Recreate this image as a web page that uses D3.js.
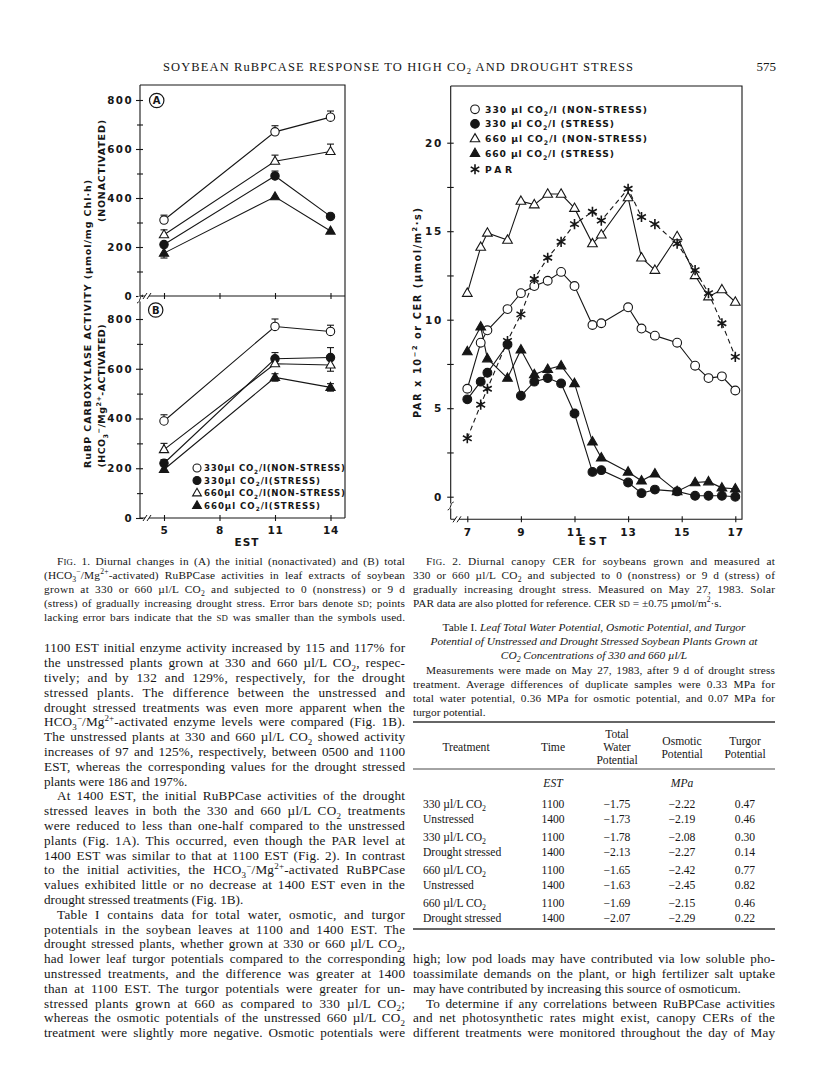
<!DOCTYPE html>
<html><head><meta charset="utf-8">
<script src="https://cdn.jsdelivr.net/npm/d3@7"></script>
<style>html,body{margin:0;padding:0;background:#fff}svg{display:block}</style>
</head><body>
<script>
// ---------------- DATA ----------------
// Fig. 1 (RuBPCase activity, µmol/mg Chl·h) at EST 5, 11, 14
const fig1Times = [5, 11, 14];
const fig1XTicks = [5, 8, 11, 14];
const fig1YTicks = [0, 200, 400, 600, 800];
// Panel A (nonactivated)
const A_330NS = [310, 670, 730];
const A_330S  = [210, 490, 325];
const A_660NS = [250, 550, 590];
const A_660S  = [175, 405, 265];
const A_330NS_up = [20, 25, 25], A_330NS_dn = [0, 0, 0];
const A_330S_up  = [0, 20, 0],   A_330S_dn  = [0, 0, 0];
const A_660NS_up = [20, 25, 30], A_660NS_dn = [0, 0, 0];
const A_660S_up  = [0, 0, 0],    A_660S_dn  = [20, 0, 0];
// Panel B (HCO3-/Mg2+-activated)
const B_330NS = [390, 770, 750];
const B_330S  = [220, 640, 645];
const B_660NS = [275, 620, 615];
const B_660S  = [195, 565, 525];
const B_330NS_up = [25, 30, 25], B_330NS_dn = [0, 0, 0];
const B_330S_up  = [15, 25, 40], B_330S_dn  = [0, 0, 0];
const B_660NS_up = [25, 0, 0],   B_660NS_dn = [0, 0, 25];
const B_660S_up  = [0, 15, 15],  B_660S_dn  = [0, 15, 15];
const fig1Legend = ["330µl CO_{2}/l(NON-STRESS)", "330µl CO_{2}/l(STRESS)", "660µl CO_{2}/l(NON-STRESS)", "660µl CO_{2}/l(STRESS)"];

// Fig. 2 (canopy CER µmol/m²·s and PAR x 10^-2) vs EST
const fig2Times = [7, 7.5, 7.75, 8.5, 9, 9.5, 10, 10.5, 11, 11.67, 12, 13, 13.5, 14, 14.83, 15.5, 16, 16.5, 17];
const cer330NS = [6.1, 8.7, 9.4, 10.6, 11.5, 11.9, 12.2, 12.7, 11.9, 9.7, 9.8, 10.7, 9.5, 9.1, 8.7, 7.4, 6.7, 6.8, 6.0];
const cer330S  = [5.5, 6.5, 7.0, 8.6, 5.7, 6.5, 6.7, 6.4, 4.7, 1.4, 1.5, 0.8, 0.2, 0.4, 0.3, 0.05, 0.05, 0.05, 0.0];
const cer660NS = [11.5, 14.1, 14.9, 14.5, 16.7, 16.5, 17.1, 17.1, 16.3, 14.3, 14.8, 16.9, 13.5, 12.8, 14.7, 12.5, 11.3, 11.7, 11.0];
const cer660S  = [8.2, 9.6, 7.8, 6.7, 8.3, 6.9, 7.2, 7.4, 6.4, 3.1, 2.2, 1.4, 0.9, 1.3, 0.3, 0.8, 0.85, 0.5, 0.45];
const par      = [3.3, 5.2, 6.1, 8.8, 10.3, 12.3, 13.5, 14.4, 15.4, 16.1, 15.6, 17.4, 15.8, 15.4, 14.3, 12.8, 11.5, 9.8, 7.9];
const fig2XTicks = [7, 9, 11, 13, 15, 17];
const fig2YTicks = [0, 2.5, 5, 7.5, 10, 12.5, 15, 17.5, 20];
const fig2Legend = ["330 µl CO_{2}/l (NON-STRESS)", "330 µl CO_{2}/l (STRESS)", "660 µl CO_{2}/l (NON-STRESS)", "660 µl CO_{2}/l (STRESS)", "PAR"];

// Table I
const tblTreatment = ["330 µl/L CO_{2}", "Unstressed", "330 µl/L CO_{2}", "Drought stressed", "660 µl/L CO_{2}", "Unstressed", "660 µl/L CO_{2}", "Drought stressed"];
const tblTime = ["1100", "1400", "1100", "1400", "1100", "1400", "1100", "1400"];
const tblTotal = [-1.75, -1.73, -1.78, -2.13, -1.65, -1.63, -1.69, -2.07];
const tblOsmotic = [-2.22, -2.19, -2.08, -2.27, -2.42, -2.45, -2.15, -2.29];
const tblTurgor = [0.47, 0.46, 0.30, 0.14, 0.77, 0.82, 0.46, 0.22];

// Page text
const headerTitle = "SOYBEAN RuBPCASE RESPONSE TO HIGH CO_{2} AND DROUGHT STRESS";
const pageNumber = "575";
const fig1Caption = [
 "F[sc:ig]. 1. Diurnal changes in (A) the initial (nonactivated) and (B) total",
 "(HCO_{3}^{−}/Mg^{2+}-activated) RuBPCase activities in leaf extracts of soybean",
 "grown at 330 or 660 µl/L CO_{2} and subjected to 0 (nonstress) or 9 d",
 "(stress) of gradually increasing drought stress. Error bars denote [sc:sd]; points",
 "lacking error bars indicate that the [sc:sd] was smaller than the symbols used."];
const fig2Caption = [
 "F[sc:ig]. 2. Diurnal canopy CER for soybeans grown and measured at",
 "330 or 660 µl/L CO_{2} and subjected to 0 (nonstress) or 9 d (stress) of",
 "gradually increasing drought stress. Measured on May 27, 1983. Solar",
 "PAR data are also plotted for reference. CER [sc:sd] = ±0.75 µmol/m^{2}·s."];
const tableTitle = [
 "Table I. [i:Leaf Total Water Potential, Osmotic Potential, and Turgor]",
 "[i:Potential of Unstressed and Drought Stressed Soybean Plants Grown at]",
 "[i:CO]_{[i:2]}[i: Concentrations of 330 and 660 µl/L]"];
const tableNote = [
 "Measurements were made on May 27, 1983, after 9 d of drought stress",
 "treatment. Average differences of duplicate samples were 0.33 MPa for",
 "total water potential, 0.36 MPa for osmotic potential, and 0.07 MPa for",
 "turgor potential."];
const leftBody = [
 "1100 EST initial enzyme activity increased by 115 and 117% for",
 "the unstressed plants grown at 330 and 660 µl/L CO_{2}, respec-",
 "tively; and by 132 and 129%, respectively, for the drought",
 "stressed plants. The difference between the unstressed and",
 "drought stressed treatments was even more apparent when the",
 "HCO_{3}^{−}/Mg^{2+}-activated enzyme levels were compared (Fig. 1B).",
 "The unstressed plants at 330 and 660 µl/L CO_{2} showed activity",
 "increases of 97 and 125%, respectively, between 0500 and 1100",
 "EST, whereas the corresponding values for the drought stressed",
 "plants were 186 and 197%.",
 "At 1400 EST, the initial RuBPCase activities of the drought",
 "stressed leaves in both the 330 and 660 µl/L CO_{2} treatments",
 "were reduced to less than one-half compared to the unstressed",
 "plants (Fig. 1A). This occurred, even though the PAR level at",
 "1400 EST was similar to that at 1100 EST (Fig. 2). In contrast",
 "to the initial activities, the HCO_{3}^{−}/Mg^{2+}-activated RuBPCase",
 "values exhibited little or no decrease at 1400 EST even in the",
 "drought stressed treatments (Fig. 1B).",
 "Table I contains data for total water, osmotic, and turgor",
 "potentials in the soybean leaves at 1100 and 1400 EST. The",
 "drought stressed plants, whether grown at 330 or 660 µl/L CO_{2},",
 "had lower leaf turgor potentials compared to the corresponding",
 "unstressed treatments, and the difference was greater at 1400",
 "than at 1100 EST. The turgor potentials were greater for un-",
 "stressed plants grown at 660 as compared to 330 µl/L CO_{2};",
 "whereas the osmotic potentials of the unstressed 660 µl/L CO_{2}",
 "treatment were slightly more negative. Osmotic potentials were"];
const leftIndent = [10, 18];
const leftLast = [9, 17];
const rightBody = [
 "high; low pod loads may have contributed via low soluble pho-",
 "toassimilate demands on the plant, or high fertilizer salt uptake",
 "may have contributed by increasing this source of osmoticum.",
 "To determine if any correlations between RuBPCase activities",
 "and net photosynthetic rates might exist, canopy CERs of the",
 "different treatments were monitored throughout the day of May"];
const rightIndent = [3];
const rightLast = [2];

// ---------------- RENDER ----------------
const W = 816, H = 1073;
const INK = '#161616';
const SERIF = "'Liberation Serif','Times New Roman',serif";
const SANS = "'DejaVu Sans',Verdana,sans-serif";
const svg = d3.select('body').append('svg').attr('width', W).attr('height', H);
svg.append('rect').attr('width', W).attr('height', H).attr('fill', '#fff');

function rich(g, str, x, y, o) {
  o = o || {};
  const fs = o.size || 13;
  const t = g.append('text').attr('x', x).attr('y', y)
    .attr('font-family', o.family || SERIF).attr('font-size', fs).attr('fill', INK);
  if (o.weight) t.attr('font-weight', o.weight);
  if (o.italic) t.attr('font-style', 'italic');
  if (o.anchor) t.attr('text-anchor', o.anchor);
  if (o.ls != null) t.attr('letter-spacing', o.ls);
  if (o.transform) t.attr('transform', o.transform);
  const re = /(_\{[^}]*\}|\^\{[^}]*\}|\[i:[^\]]*\]|\[sc:[^\]]*\])/;
  const parts = str.split(re).filter(s => s.length);
  let cur = 0, spaces = 0, chars = 0;
  parts.forEach(p => {
    let m, txt = p, off = 0, size = null, style = null;
    if ((m = p.match(/^_\{(.*)\}$/))) {
      txt = m[1]; off = fs * 0.3; size = fs * 0.68;
      const mi = txt.match(/^\[i:(.*)\]$/); if (mi) { txt = mi[1]; style = 'italic'; }
    }
    else if ((m = p.match(/^\^\{(.*)\}$/))) { txt = m[1]; off = -fs * 0.4; size = fs * 0.68; }
    else if ((m = p.match(/^\[i:(.*)\]$/))) { txt = m[1]; style = 'italic'; }
    else if ((m = p.match(/^\[sc:(.*)\]$/))) { txt = m[1].toUpperCase(); size = fs * 0.78; }
    spaces += (txt.match(/ /g) || []).length;
    chars += txt.length;
    const ts = t.append('tspan').text(txt);
    if (off - cur !== 0) ts.attr('dy', off - cur);
    cur = off;
    if (size) ts.attr('font-size', size);
    if (style) ts.attr('font-style', style);
  });
  if (o.width) t.attr('textLength', o.width).attr('lengthAdjust', 'spacing');
  if (o.justify) {
    const nat = t.node().getComputedTextLength();
    const extra = o.justify - nat;
    // share the slack between letters (a little) and word gaps (most)
    let ls = extra * 0.35 / Math.max(1, chars - 1);
    ls = Math.max(-0.25, Math.min(0.35, ls));
    const rest = extra - ls * (chars - 1);
    t.attr('letter-spacing', ls.toFixed(3));
    if (spaces > 0) t.attr('word-spacing', (rest / spaces).toFixed(3));
  }
  return t;
}

// marker helpers
function marker(g, type, cx, cy, r) {
  r = r || 4.3;
  if (type === 'oc' || type === 'fc') {
    g.append('circle').attr('cx', cx).attr('cy', cy).attr('r', r)
      .attr('fill', type === 'fc' ? INK : '#fff').attr('stroke', INK).attr('stroke-width', 1.1);
  } else if (type === 'ot' || type === 'ft') {
    const s = r * 2.2;
    const h = s * Math.sqrt(3) / 2;
    const p = d3.path();
    p.moveTo(cx, cy - h * 0.62); p.lineTo(cx + s / 2, cy + h * 0.38); p.lineTo(cx - s / 2, cy + h * 0.38); p.closePath();
    g.append('path').attr('d', p.toString()).attr('fill', type === 'ft' ? INK : '#fff')
      .attr('stroke', INK).attr('stroke-width', 1.1).attr('stroke-linejoin', 'miter');
  } else if (type === 'st') {
    const p = d3.path();
    [90, 30, 150].forEach(a => {
      const rad = a * Math.PI / 180, dx = Math.cos(rad) * r * 1.15, dy = Math.sin(rad) * r * 1.15;
      p.moveTo(cx - dx, cy - dy); p.lineTo(cx + dx, cy + dy);
    });
    g.append('path').attr('d', p.toString()).attr('stroke', INK).attr('stroke-width', 1.6).attr('fill', 'none');
  }
}
function xBreak(g, x, y) {
  g.append('rect').attr('x', x - 2).attr('y', y - 2).attr('width', 4).attr('height', 4).attr('fill', '#fff');
  [x - 2, x + 2].forEach(xx => g.append('line').attr('x1', xx - 2).attr('y1', y + 3).attr('x2', xx + 2).attr('y2', y - 3)
    .attr('stroke', INK).attr('stroke-width', 1));
}
function yBreak(g, x, y) {
  g.append('rect').attr('x', x - 2).attr('y', y - 2.5).attr('width', 4).attr('height', 5).attr('fill', '#fff');
  g.append('path').attr('d', `M${x - 3},${y + 4} C${x + 1},${y + 3} ${x - 1},${y - 3} ${x + 3},${y - 4}`)
    .attr('stroke', INK).attr('fill', 'none').attr('stroke-width', 1);
}
function styleAxisText(sel, size, ls) {
  sel.selectAll('.tick text').attr('font-family', SANS).attr('font-weight', 'bold')
    .attr('font-size', size).attr('letter-spacing', ls).attr('fill', INK);
}

// ---------- header ----------
rich(svg, headerTitle, 163, 70.5, { size: 12.5, width: 470 });
rich(svg, pageNumber, 776, 70.5, { size: 13, anchor: 'end' });

// ---------- FIGURE 1 ----------
const f1 = svg.append('g');
const x1 = d3.scaleLinear().domain([5, 14]).range([164, 330.5]);
const yA = d3.scaleLinear().domain([0, 800]).range([296, 100]);
const yB = d3.scaleLinear().domain([0, 800]).range([518, 319]);
const F1L = 140, F1R = 345, F1T = 85;

f1.append('path').attr('d', `M${F1L},${F1T}H${F1R}V${yB(0)}`).attr('fill', 'none').attr('stroke', INK).attr('stroke-width', 1.1);
f1.append('line').attr('x1', F1L).attr('x2', F1L).attr('y1', F1T).attr('y2', yA(0)).attr('stroke', INK).attr('stroke-width', 1.1);
f1.append('line').attr('x1', F1L).attr('x2', F1L).attr('y1', 301).attr('y2', yB(0)).attr('stroke', INK).attr('stroke-width', 1.1);
[yA(0), yB(0)].forEach(yy => f1.append('line').attr('x1', F1L).attr('x2', F1R).attr('y1', yy).attr('y2', yy).attr('stroke', INK).attr('stroke-width', 1.1));

function fig1YAxis(scale) {
  const ax = d3.axisLeft(scale).tickValues(d3.range(0, 801, 100))
    .tickFormat(d => fig1YTicks.includes(d) ? d : '').tickSizeOuter(0).tickSize(3).tickPadding(4);
  const g = f1.append('g').attr('transform', `translate(${F1L},0)`).call(ax);
  g.select('.domain').remove();
  g.selectAll('.tick line').attr('x1', 3).attr('x2', d => fig1YTicks.includes(d) ? -4 : -3).attr('stroke', INK).attr('stroke-width', 1.1);
  styleAxisText(g, 10.3, 1.4);
}
fig1YAxis(yA); fig1YAxis(yB);
function fig1XAxis(yy, labels) {
  const ax = d3.axisBottom(x1).tickValues(fig1XTicks).tickSizeOuter(0).tickSize(3).tickPadding(6)
    .tickFormat(labels ? d => d : () => '');
  const g = f1.append('g').attr('transform', `translate(0,${yy})`).call(ax);
  g.select('.domain').remove();
  g.selectAll('.tick line').attr('y1', -3).attr('y2', 3).attr('stroke', INK).attr('stroke-width', 1.1);
  styleAxisText(g, 10.5, 0.8);
}
fig1XAxis(yA(0), false); fig1XAxis(yB(0), true);
xBreak(f1, 147, yA(0)); xBreak(f1, 147, yB(0));
yBreak(f1, F1L, yA(0) + 3);
rich(f1, "EST", 247, 546, { family: SANS, weight: 'bold', size: 10.5, anchor: 'middle', ls: 1 });

// panel letters
[[156.7, 100.5, 'A'], [155.7, 310, 'B']].forEach(([cx, cy, l]) => {
  f1.append('circle').attr('cx', cx).attr('cy', cy).attr('r', 7.2).attr('fill', '#fff').attr('stroke', INK).attr('stroke-width', 1.2);
  f1.append('text').attr('x', cx).attr('y', cy + 3.7).attr('text-anchor', 'middle').attr('font-family', SANS)
    .attr('font-weight', 'bold').attr('font-size', 10).attr('fill', INK).text(l);
});

// y axis titles
rich(f1, "RuBP CARBOXYLASE ACTIVITY (µmol/mg Chl·h)", 0, 0, { family: SANS, weight: 'bold', size: 9.5, anchor: 'middle', width: 288, transform: 'translate(91,324) rotate(-90)' });
rich(f1, "(NONACTIVATED)", 0, 0, { family: SANS, weight: 'bold', size: 9.5, anchor: 'middle', width: 102, transform: 'translate(105,171) rotate(-90)' });
rich(f1, "(HCO_{3}^{−}/Mg^{2+}-ACTIVATED)", 0, 0, { family: SANS, weight: 'bold', size: 9.5, anchor: 'middle', width: 143, transform: 'translate(105,396) rotate(-90)' });

function drawFig1Series(yScale, vals, up, dn) {
  f1.append('path').attr('d', d3.line().x((d, i) => x1(fig1Times[i])).y(d => yScale(d))(vals))
    .attr('fill', 'none').attr('stroke', INK).attr('stroke-width', 1.1);
  vals.forEach((v, i) => {
    const cx = x1(fig1Times[i]);
    [[up[i], 1], [dn[i], -1]].forEach(([e, s]) => {
      if (!e) return;
      const ye = yScale(v + s * e);
      f1.append('line').attr('x1', cx).attr('x2', cx).attr('y1', yScale(v)).attr('y2', ye).attr('stroke', INK).attr('stroke-width', 1.1);
      f1.append('line').attr('x1', cx - 3.5).attr('x2', cx + 3.5).attr('y1', ye).attr('y2', ye).attr('stroke', INK).attr('stroke-width', 1.1);
    });
  });
}
function drawFig1Markers(yScale, vals, type) {
  vals.forEach((v, i) => marker(f1, type, x1(fig1Times[i]), yScale(v), 4.2));
}
const f1SeriesA = [[A_330NS, A_330NS_up, A_330NS_dn, 'oc'], [A_330S, A_330S_up, A_330S_dn, 'fc'], [A_660NS, A_660NS_up, A_660NS_dn, 'ot'], [A_660S, A_660S_up, A_660S_dn, 'ft']];
const f1SeriesB = [[B_330NS, B_330NS_up, B_330NS_dn, 'oc'], [B_330S, B_330S_up, B_330S_dn, 'fc'], [B_660NS, B_660NS_up, B_660NS_dn, 'ot'], [B_660S, B_660S_up, B_660S_dn, 'ft']];
f1SeriesA.forEach(s => drawFig1Series(yA, s[0], s[1], s[2]));
f1SeriesB.forEach(s => drawFig1Series(yB, s[0], s[1], s[2]));
f1SeriesA.forEach(s => drawFig1Markers(yA, s[0], s[3]));
f1SeriesB.forEach(s => drawFig1Markers(yB, s[0], s[3]));

// legend fig 1
const f1LegTypes = ['oc', 'fc', 'ot', 'ft'];
const f1LegY = [468, 480.5, 493, 505.5];
const f1LegW = [141, 116, 141, 116];
fig1Legend.forEach((s, i) => {
  marker(f1, f1LegTypes[i], 197, f1LegY[i], 4);
  rich(f1, s, 204, f1LegY[i] + 3.4, { family: SANS, weight: 'bold', size: 8.6, width: f1LegW[i] });
});

// ---------- FIGURE 2 ----------
const f2 = svg.append('g');
const x2 = d3.scaleLinear().domain([7, 17]).range([467.3, 735.3]);
const y2 = d3.scaleLinear().domain([0, 20]).range([496.7, 142.7]);
const F2L = 450.7, F2R = 742, F2T = 86, F2B = 519.3;
f2.append('path').attr('d', `M${F2L},${F2T}H${F2R}V${F2B}H${F2L}`).attr('fill', 'none').attr('stroke', INK).attr('stroke-width', 1.1);
f2.append('line').attr('x1', F2L).attr('x2', F2L).attr('y1', F2T).attr('y2', F2B).attr('stroke', INK).attr('stroke-width', 1.1);
{
  const ax = d3.axisLeft(y2).tickValues(fig2YTicks).tickFormat(d => d % 5 === 0 ? d : '').tickSizeOuter(0).tickSize(3).tickPadding(5);
  const g = f2.append('g').attr('transform', `translate(${F2L},0)`).call(ax);
  g.select('.domain').remove();
  g.selectAll('.tick line').attr('x1', 3).attr('x2', -3.5).attr('stroke', INK).attr('stroke-width', 1.1);
  styleAxisText(g, 10.5, 1.5);
  const axb = d3.axisBottom(x2).tickValues(fig2XTicks).tickSizeOuter(0).tickSize(3).tickPadding(6);
  const gb = f2.append('g').attr('transform', `translate(0,${F2B})`).call(axb);
  gb.select('.domain').remove();
  gb.selectAll('.tick line').attr('y1', -3).attr('y2', 3).attr('stroke', INK).attr('stroke-width', 1.1);
  styleAxisText(gb, 10.5, 1);
}
yBreak(f2, F2L, 506);
xBreak(f2, 457, F2B);
rich(f2, "EST", 594, 545, { family: SANS, weight: 'bold', size: 10.5, anchor: 'middle', ls: 3 });
rich(f2, "PAR x 10^{−2} or CER (µmol/m^{2}·s)", 0, 0, { family: SANS, weight: 'bold', size: 9.8, anchor: 'middle', width: 210, transform: 'translate(421,313) rotate(-90)' });

const f2Series = [[cer330NS, 'oc', null], [cer330S, 'fc', null], [cer660NS, 'ot', null], [cer660S, 'ft', null], [par, 'st', '5,3.5']];
f2Series.forEach(([vals, type, dash]) => {
  f2.append('path').attr('d', d3.line().x((d, i) => x2(fig2Times[i])).y(d => y2(d))(vals))
    .attr('fill', 'none').attr('stroke', INK).attr('stroke-width', 1.1).attr('stroke-dasharray', dash);
});
f2Series.forEach(([vals, type]) => {
  vals.forEach((v, i) => marker(f2, type, x2(fig2Times[i]), y2(v), 4.4));
});
const f2LegY = [109.3, 123.9, 138.7, 153.3, 169.3];
const f2LegW = [162, 129, 162, 129, 27];
const f2LegTypes = ['oc', 'fc', 'ot', 'ft', 'st'];
fig2Legend.forEach((s, i) => {
  marker(f2, f2LegTypes[i], 475, f2LegY[i], 4.3);
  rich(f2, s, 485, f2LegY[i] + 3.5, { family: SANS, weight: 'bold', size: 9.2, width: f2LegW[i] });
});

// ---------- TEXT: captions ----------
const CAP = 11.3, CAPL = 14;
const LX0 = 44, LX1 = 405, RX0 = 413, RX1 = 775;
fig1Caption.forEach((s, i) => {
  const x = i === 0 ? 57 : LX0;
  rich(svg, s, x, 561 + i * CAPL + 3.8, { size: CAP, justify: LX1 - x });
});
fig2Caption.forEach((s, i) => {
  const x = i === 0 ? 426 : RX0;
  const last = i === fig2Caption.length - 1;
  rich(svg, s, x, 561 + i * CAPL + 3.8, { size: CAP, justify: last ? null : RX1 - x });
});
tableTitle.forEach((s, i) => {
  rich(svg, s, (RX0 + RX1) / 2, 627 + i * CAPL + 3.8, { size: 11.4, anchor: 'middle' });
});
tableNote.forEach((s, i) => {
  const x = i === 0 ? 426 : RX0;
  const last = i === tableNote.length - 1;
  rich(svg, s, x, 670 + i * CAPL + 3.8, { size: CAP, justify: last ? null : RX1 - x });
});

// ---------- TABLE ----------
const tg = svg.append('g');
const TF = 11.6;
const colC = { trt: 466, time: 553, total: 617, osm: 682, tur: 745 };
function hline(y, w) { tg.append('line').attr('x1', RX0).attr('x2', RX1).attr('y1', y).attr('y2', y).attr('stroke', '#333').attr('stroke-width', w); }
hline(722, 1.4); hline(769, 0.9);
const hdr = [["Treatment", colC.trt, [747]], ["Time", colC.time, [747]], ["Total|Water|Potential", colC.total, [734, 747, 760]],
  ["Osmotic|Potential", colC.osm, [741, 754]], ["Turgor|Potential", colC.tur, [741, 754]]];
hdr.forEach(([txt, cx, ys]) => txt.split('|').forEach((t, i) => rich(tg, t, cx, ys[i] + 4, { size: TF, anchor: 'middle' })));
rich(tg, "[i:EST]", colC.time, 787, { size: TF, anchor: 'middle' });
rich(tg, "[i:MPa]", colC.osm, 787, { size: TF, anchor: 'middle' });
const rowY = tblTime.map((d, i) => 804 + Math.floor(i / 2) * 33 + (i % 2) * 15);
const fmt = v => (v < 0 ? '−' : '') + Math.abs(v).toFixed(2);
tblTreatment.forEach((s, i) => {
  const yy = rowY[i] + 4;
  rich(tg, s, 423, yy, { size: TF });
  rich(tg, tblTime[i], colC.time, yy, { size: TF, anchor: 'middle' });
  rich(tg, fmt(tblTotal[i]), colC.total, yy, { size: TF, anchor: 'middle' });
  rich(tg, fmt(tblOsmotic[i]), colC.osm, yy, { size: TF, anchor: 'middle' });
  rich(tg, fmt(tblTurgor[i]), colC.tur, yy, { size: TF, anchor: 'middle' });
});
hline(rowY[7] + 11, 1.4);

// ---------- BODY TEXT ----------
const BF = 13.2, BL = 14.8, BY0 = 648;
leftBody.forEach((s, i) => {
  const x = leftIndent.includes(i) ? LX0 + 13 : LX0;
  rich(svg, s, x, BY0 + i * BL + 4.3, { size: BF, justify: leftLast.includes(i) ? null : LX1 - x });
});
const rStart = leftBody.length - rightBody.length;
rightBody.forEach((s, i) => {
  const x = rightIndent.includes(i) ? RX0 + 13 : RX0;
  rich(svg, s, x, BY0 + (rStart + i) * BL + 4.3, { size: BF, justify: rightLast.includes(i) ? null : RX1 - x });
});
</script>
</body></html>
